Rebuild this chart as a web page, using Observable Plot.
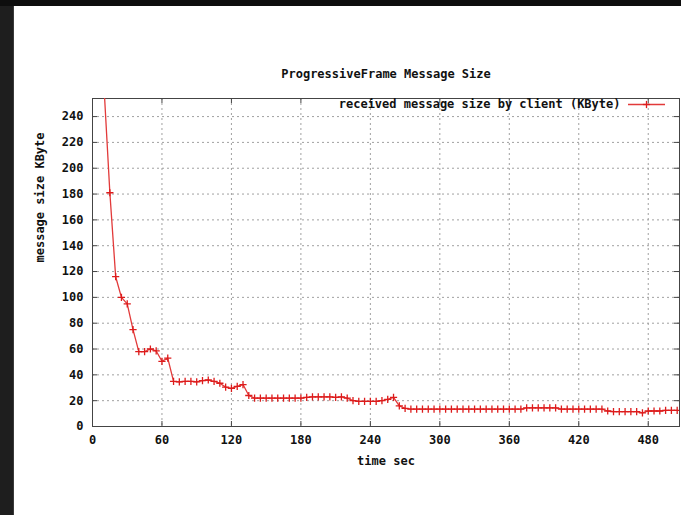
<!DOCTYPE html>
<html><head><meta charset="utf-8">
<script src="https://cdn.jsdelivr.net/npm/d3@7"></script>
<script src="https://cdn.jsdelivr.net/npm/@observablehq/plot@0.6"></script>
<style>
body{margin:0;background:#fff;}
#wrap{position:relative;width:681px;height:515px;overflow:hidden;background:#fff;}
#wrap svg{display:block;}
.band{position:absolute;}
</style></head><body><div id="wrap"></div>
<script>
const title = "ProgressiveFrame Message Size";
const seriesName = "received message size by client (KByte)";
const xLabel = "time sec";
const yLabel = "message size KByte";
const xTicks = [0, 60, 120, 180, 240, 300, 360, 420, 480];
const yTicks = [0, 20, 40, 60, 80, 100, 120, 140, 160, 180, 200, 220, 240];

const times = [10, 15, 20, 25, 30, 35, 40, 45, 50, 55, 60, 65, 70, 75, 80, 85, 90, 95, 100, 105,
  110, 115, 120, 125, 130, 135, 140, 145, 150, 155, 160, 165, 170, 175, 180, 185, 190, 195, 200, 205,
  210, 215, 220, 225, 230, 235, 240, 245, 250, 255, 260, 265, 270, 275, 280, 285, 290, 295, 300, 305,
  310, 315, 320, 325, 330, 335, 340, 345, 350, 355, 360, 365, 370, 375, 380, 385, 390, 395, 400, 405,
  410, 415, 420, 425, 430, 435, 440, 445, 450, 455, 460, 465, 470, 475, 480, 485, 490, 495, 500, 505];
const sizes = [262, 181, 116, 100, 95, 75, 58, 58, 60, 58.5, 50.5, 53, 35, 34.5, 35, 35, 34.5, 35.5, 36, 35,
  33.5, 30.5, 29.5, 31, 32.5, 24, 22, 22, 22, 22, 22, 22, 22, 22, 22, 22.5, 23, 23, 23, 23,
  22.5, 23, 22, 20, 19.5, 19.5, 19.5, 19.5, 20, 21, 22.5, 16, 14, 13.5, 13.5, 13.5, 13.5, 13.5, 13.5, 13.5,
  13.5, 13.5, 13.5, 13.5, 13.5, 13.5, 13.5, 13.5, 13.5, 13.5, 13.5, 13.5, 13.5, 14.5, 14.5, 14.5, 14.5, 14.5, 14.5, 13.5,
  13.5, 13.5, 13.5, 13.5, 13.5, 13.5, 13.5, 12, 11.5, 11.5, 11.5, 11.5, 11.5, 10.5, 12, 12, 12, 12.5, 12.5, 12.5];

const data = times.map((t, i) => ({t, v: sizes[i]}));

const font = "'DejaVu Sans Mono', 'Liberation Mono', monospace";
const plus = {
  draw(ctx, size) {
    const r = Math.sqrt(size / Math.PI);
    ctx.moveTo(-r, 0); ctx.lineTo(r, 0);
    ctx.moveTo(0, -r); ctx.lineTo(0, r);
  }
};

const W = 681, H = 515, mL = 92, mR = 2, mT = 98, mB = 89;
const pw = W - mL - mR, ph = H - mT - mB;
const red = "#dd1c1c";

const chart = Plot.plot({
  width: W, height: H,
  marginLeft: mL, marginRight: mR, marginTop: mT, marginBottom: mB,
  style: {fontFamily: font, fontSize: "12px", fontWeight: "bold", background: "#fff", color: "#111"},
  x: {domain: [0, 507]},
  y: {domain: [0, 254]},
  marks: [
    Plot.gridX({ticks: xTicks, stroke: "#a0a0a0", strokeOpacity: 1, strokeDasharray: "2,3"}),
    Plot.gridY({ticks: yTicks, stroke: "#a0a0a0", strokeOpacity: 1, strokeDasharray: "2,3"}),
    Plot.tickX(xTicks, {x: d => d, insetTop: ph - 5, stroke: "#444"}),
    Plot.tickX(xTicks, {x: d => d, insetBottom: ph - 5, stroke: "#444"}),
    Plot.tickY(yTicks, {y: d => d, insetRight: pw - 5, stroke: "#444"}),
    Plot.tickY(yTicks, {y: d => d, insetLeft: pw - 5, stroke: "#444"}),
    Plot.frame({stroke: "#444"}),
    Plot.axisX({ticks: xTicks, tickSize: 0, tickPadding: 9, label: null, tickFormat: d => String(d)}),
    Plot.axisY({ticks: yTicks, tickSize: 0, tickPadding: 9, label: null, tickFormat: d => String(d)}),
    Plot.line(data, {x: "t", y: "v", stroke: "#e23a3a", strokeWidth: 1.3, clip: true}),
    Plot.dot(data, {x: "t", y: "v", symbol: plus, r: 3.6, stroke: red, strokeWidth: 1.3, fill: "none", clip: true}),
    Plot.text([title], {text: d => d, frameAnchor: "top", lineAnchor: "middle", dy: -24, fontSize: 12}),
    Plot.text([xLabel], {text: d => d, frameAnchor: "bottom", lineAnchor: "middle", dy: 35, fontSize: 12}),
    Plot.text([yLabel], {text: d => d, frameAnchor: "left", lineAnchor: "middle", dx: -52, rotate: -90, fontSize: 12}),
    Plot.text([seriesName], {text: d => d, frameAnchor: "top-right", lineAnchor: "middle", textAnchor: "end", dx: -59, dy: 6, fontSize: 12})
  ]
});

// legend sample
const svgSel = d3.select(chart);
const lg = svgSel.append("g").attr("stroke", red).attr("stroke-width", 1.3);
lg.append("line").attr("x1", 628).attr("x2", 665).attr("y1", 104.5).attr("y2", 104.5).attr("stroke", "#e23a3a");
lg.append("line").attr("x1", 646.5 - 3.6).attr("x2", 646.5 + 3.6).attr("y1", 104.5).attr("y2", 104.5);
lg.append("line").attr("x1", 646.5).attr("x2", 646.5).attr("y1", 104.5 - 3.6).attr("y2", 104.5 + 3.6);

const wrapEl = document.getElementById("wrap");
wrapEl.appendChild(chart);
const topBand = document.createElement("div");
topBand.className = "band";
Object.assign(topBand.style, {left: "0px", top: "0px", width: "681px", height: "6px", background: "#0e0e0e"});
const leftBand = document.createElement("div");
leftBand.className = "band";
Object.assign(leftBand.style, {left: "0px", top: "0px", width: "13px", height: "515px", background: "#1e1e1e", borderRight: "1px solid #3a3a3a"});
wrapEl.appendChild(leftBand);
wrapEl.appendChild(topBand);
</script></body></html>
